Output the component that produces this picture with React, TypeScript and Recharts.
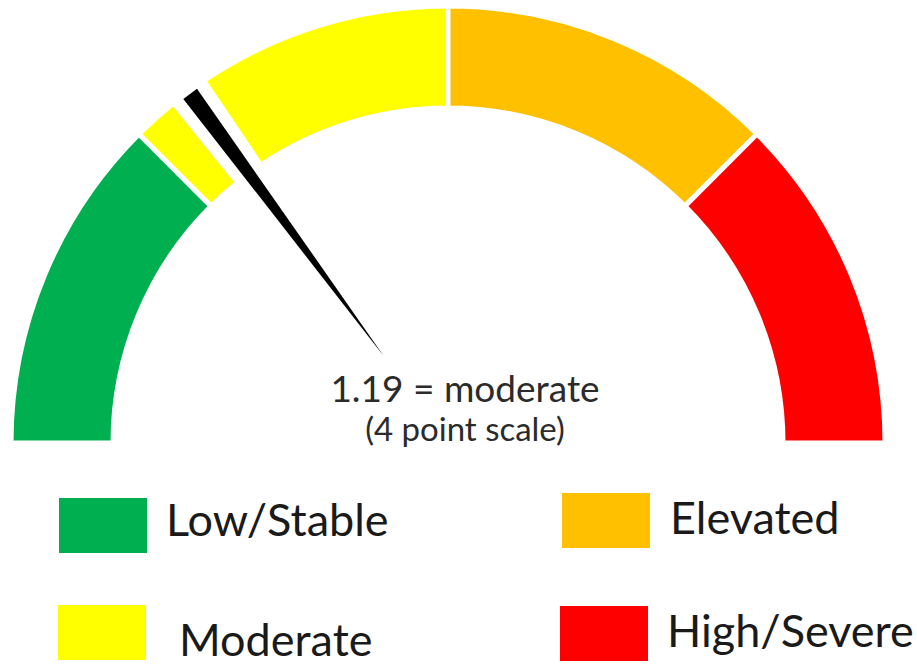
import React from "react";
import { PieChart, Pie, Cell } from "recharts";

// gauge bands on a 0-4 scale; the blank band is the cut-out around the needle
const bandNames = ["Low/Stable", "Moderate", "cut", "Moderate", "Elevated", "High/Severe"];
const bandValues = [1, 0.135, 0.11, 0.755, 1, 1];
const bandColors = ["#00B050", "#FFFF00", "none", "#FFFF00", "#FFC000", "#FF0000"];

const score = 1.19;
const scaleMax = 4;
const scoreLabel = "1.19 = moderate";
const scaleLabel = "(4 point scale)";

const legendNames = ["Low/Stable", "Moderate", "Elevated", "High/Severe"];
const legendColors = ["#00B050", "#FFFF00", "#FFC000", "#FF0000"];

const bands = bandNames.map((name, i) => ({ name, value: bandValues[i] }));
const needleData = [
  { kind: "needle", value: score },
  { kind: "rest", value: scaleMax - score },
];

const RAD = Math.PI / 180;
const polar = (cx: number, cy: number, r: number, a: number) => ({
  x: cx + r * Math.cos(-a * RAD),
  y: cy + r * Math.sin(-a * RAD),
});

const renderNeedle = (props: any) => {
  if (props.kind !== "needle") return <g />;
  const { cx, cy, innerRadius, outerRadius, endAngle } = props;
  const tip = polar(cx, cy, innerRadius, endAngle);
  const base = polar(cx, cy, outerRadius, endAngle);
  const px = -Math.sin(-endAngle * RAD) * 8.5;
  const py = Math.cos(-endAngle * RAD) * 8.5;
  const pts = `${tip.x},${tip.y} ${base.x + px},${base.y + py} ${base.x - px},${base.y - py}`;
  return <polygon points={pts} fill="#000" />;
};

const legendPos = [
  { left: 59, top: 498, textLeft: 166, textTop: 496 },
  { left: 58, top: 605, textLeft: 179, textTop: 616 },
  { left: 562, top: 493, textLeft: 670, textTop: 494 },
  { left: 560, top: 606, textLeft: 667, textTop: 607 },
];

export default function App() {
  return (
    <div style={{ position: "absolute", left: 0, top: 0, width: 917, height: 667, background: "#fff", overflow: "hidden", fontFamily: "Lato, sans-serif" }}>
      <PieChart width={917} height={667} margin={{ top: 0, right: 0, bottom: 0, left: 0 }}>
        <Pie
          data={bands}
          dataKey="value"
          nameKey="name"
          cx={448}
          cy={443}
          startAngle={180}
          endAngle={0}
          innerRadius={335}
          outerRadius={437}
          stroke="#fff"
          strokeWidth={5}
          isAnimationActive={false}
        >
          {bands.map((b, i) => (
            <Cell key={i} fill={bandColors[i]} stroke={bandColors[i] === "none" ? "none" : "#fff"} />
          ))}
        </Pie>
        <Pie
          data={needleData}
          dataKey="value"
          cx={448}
          cy={443}
          startAngle={180}
          endAngle={0}
          innerRadius={108}
          outerRadius={434}
          stroke="none"
          shape={renderNeedle}
          isAnimationActive={false}
        />
      </PieChart>
      <div style={{ position: "absolute", left: 265, width: 400, top: 369, textAlign: "center", fontSize: 37, color: "#2b2b2b", lineHeight: "37px", whiteSpace: "nowrap" }}>
        {scoreLabel}
      </div>
      <div style={{ position: "absolute", left: 265, width: 400, top: 412, textAlign: "center", fontSize: 33, color: "#2b2b2b", lineHeight: "33px", whiteSpace: "nowrap" }}>
        {scaleLabel}
      </div>
      {legendNames.map((name, i) => (
        <React.Fragment key={name}>
          <div style={{ position: "absolute", left: legendPos[i].left, top: legendPos[i].top, width: 88, height: 55, background: legendColors[i] }} />
          <div style={{ position: "absolute", left: legendPos[i].textLeft, top: legendPos[i].textTop, fontSize: 45, lineHeight: "46px", color: "#1a1a1a", whiteSpace: "nowrap" }}>
            {name}
          </div>
        </React.Fragment>
      ))}
    </div>
  );
}
